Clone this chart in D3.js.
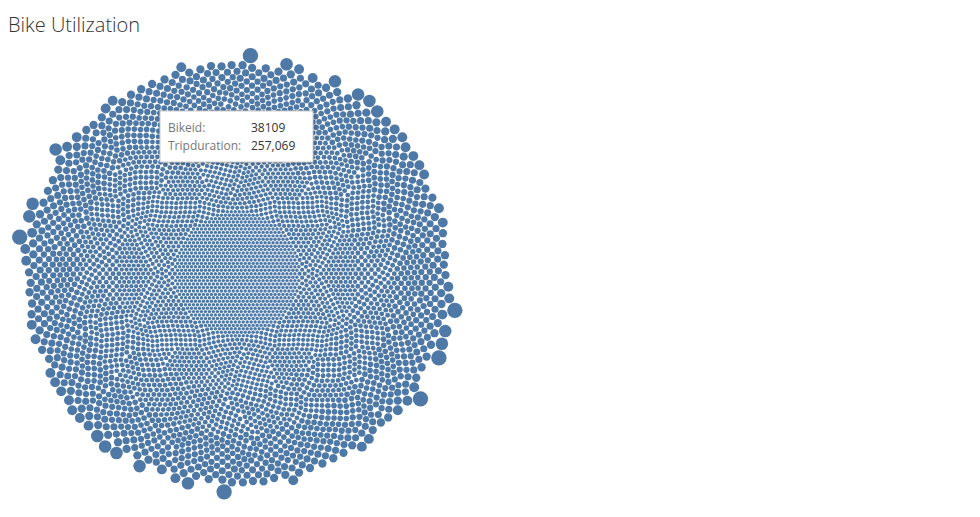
<!DOCTYPE html>
<html><head><meta charset="utf-8">
<script src="https://cdn.jsdelivr.net/npm/d3@7"></script>
<style>
body{margin:0;background:#fff;font-family:"Open Sans",Lato,sans-serif;}
</style></head>
<body><div id="chart"></div>
<script>
// trip duration classes (seconds) and how many bikes fall in each
var durationBins = [60000, 90000, 120000, 160000, 200000, 260000, 350000, 500000, 800000, 1200000];
var bikeCounts = [900, 1500, 1300, 700, 350, 180, 90, 40, 15, 6];
var tipBike = "38109";
var tipDuration = "257,069";

var svgWidth = 980, svgHeight = 517;
var svg = d3.select("#chart").append("svg")
  .attr("width", svgWidth).attr("height", svgHeight);

svg.append("text").attr("x", 8).attr("y", 32)
  .attr("font-size", 20).attr("font-weight", 300).attr("fill", "#333")
  .text("Bike Utilization");

var bikes = [];
durationBins.forEach(function(d, i) {
  for (var k = 0; k < bikeCounts[i]; k++) bikes.push({tripduration: d});
});

var root = d3.hierarchy({children: bikes})
  .sum(d => d.tripduration || 0)
  .sort((a, b) => a.value - b.value);

d3.pack().size([458, 458]).padding(0.6)(root);

var g = svg.append("g").attr("transform", "translate(8,47)");
g.selectAll("circle").data(root.leaves()).enter().append("circle")
  .attr("cx", d => d.x).attr("cy", d => d.y).attr("r", d => d.r)
  .attr("fill", "#4e79a7");

// tooltip
var tip = svg.append("g").attr("transform", "translate(160,111)");
tip.append("rect").attr("width", 153).attr("height", 51)
  .attr("fill", "#fff").attr("stroke", "#ccc")
  .style("filter", "drop-shadow(1px 1px 2px rgba(0,0,0,0.3))");
tip.append("text").attr("x", 8).attr("y", 21).attr("font-size", 12).attr("fill", "#777").text("Bikeid:");
tip.append("text").attr("x", 8).attr("y", 39).attr("font-size", 12).attr("fill", "#777").text("Tripduration:");
tip.append("text").attr("x", 91).attr("y", 21).attr("font-size", 12).attr("fill", "#333").text(tipBike);
tip.append("text").attr("x", 91).attr("y", 39).attr("font-size", 12).attr("fill", "#333").text(tipDuration);
</script></body></html>
